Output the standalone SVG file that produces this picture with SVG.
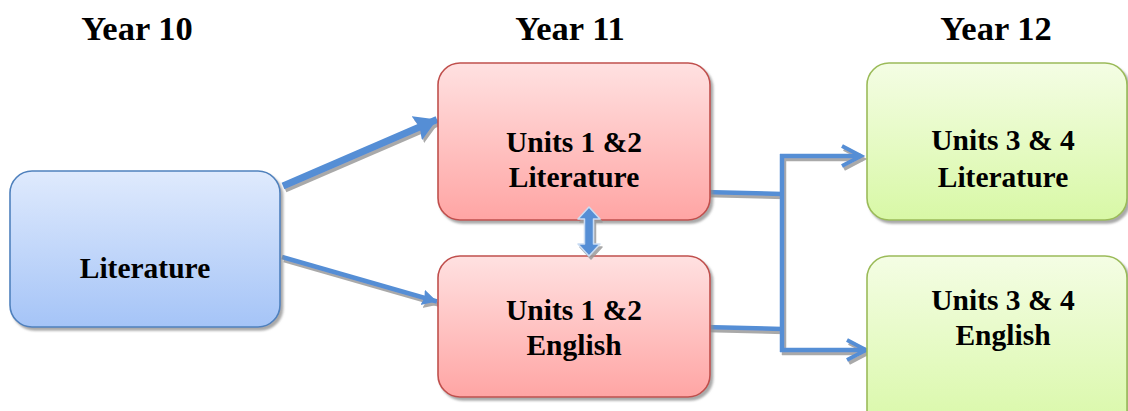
<svg xmlns="http://www.w3.org/2000/svg" width="1128" height="411" viewBox="0 0 1128 411">
  <style>
    .hdr { font-family: "Liberation Serif", "Times New Roman", serif; font-weight: bold; font-size: 34.5px; fill: #000; text-anchor: middle; }
    .lbl { font-family: "Liberation Serif", "Times New Roman", serif; font-weight: bold; font-size: 29.5px; fill: #000; text-anchor: middle; }
    .box { stroke-width: 1.6; filter: url(#shadow); }
    .blue { fill: url(#gBlue); stroke: #4f81bd; }
    .red { fill: url(#gRed); stroke: #c0504d; }
    .green { fill: url(#gGreen); stroke: #9bbb59; }
    .wire { fill: none; stroke: #558ed5; stroke-linecap: butt; }
  </style>
  <defs>
    <linearGradient id="gBlue" x1="0" y1="0" x2="0" y2="1">
      <stop offset="0" stop-color="#dfeafd"/>
      <stop offset="1" stop-color="#a5c4f7"/>
    </linearGradient>
    <linearGradient id="gRed" x1="0" y1="0" x2="0" y2="1">
      <stop offset="0" stop-color="#ffe1e1"/>
      <stop offset="1" stop-color="#ffa5a4"/>
    </linearGradient>
    <linearGradient id="gGreen" x1="0" y1="0" x2="0" y2="1">
      <stop offset="0" stop-color="#f4fde4"/>
      <stop offset="1" stop-color="#d8f8a6"/>
    </linearGradient>
    <filter id="shadow" x="-10%" y="-10%" width="125%" height="130%">
      <feDropShadow dx="2.5" dy="3" stdDeviation="0.8" flood-color="#8c8c8c" flood-opacity="0.75"/>
    </filter>
    <filter id="lineShadow" x="-10%" y="-20%" width="130%" height="150%">
      <feDropShadow dx="2" dy="3" stdDeviation="0.7" flood-color="#9a9a9a" flood-opacity="0.85"/>
    </filter>
    <marker id="headBig" markerUnits="userSpaceOnUse" markerWidth="26" markerHeight="28" refX="22" refY="13" orient="auto">
      <path d="M0,0 L22,13 L0,26 L3,13 z" fill="#558ed5"/>
    </marker>
    <marker id="headSmall" markerUnits="userSpaceOnUse" markerWidth="18" markerHeight="18" refX="15" refY="8" orient="auto">
      <path d="M0,0 L15,8 L0,16 L2,8 z" fill="#558ed5"/>
    </marker>
    <marker id="chevron" markerUnits="userSpaceOnUse" markerWidth="26" markerHeight="26" refX="21" refY="12" orient="auto">
      <path d="M2,2 L21,12 L2,22" fill="none" stroke="#558ed5" stroke-width="4" stroke-linejoin="miter"/>
    </marker>
  </defs>

  <!-- column headings -->
  <text class="hdr" x="137" y="40">Year 10</text>
  <text class="hdr" x="570" y="40">Year 11</text>
  <text class="hdr" x="996" y="40">Year 12</text>

  <!-- connectors -->
  <g id="connectors" filter="url(#lineShadow)">
    <line class="wire" x1="283" y1="186" x2="437" y2="119.5" stroke-width="7" marker-end="url(#headBig)"/>
    <line class="wire" x1="282" y1="257" x2="437" y2="301.5" stroke-width="4.5" marker-end="url(#headSmall)"/>
    <path class="wire" d="M704,192 L782,194 M704,327 L782,329" stroke-width="4.5"/>
    <path class="wire" d="M782,154 L782,352" stroke-width="4.5"/>
    <path class="wire" d="M780,156 L861,156" stroke-width="4.5" marker-end="url(#chevron)"/>
    <path class="wire" d="M780,350 L866,350" stroke-width="4.5" marker-end="url(#chevron)"/>
  </g>

  <!-- Year 10 -->
  <g id="node-y10-literature">
    <rect class="box blue" x="10" y="171" width="270" height="156" rx="22"/>
    <text class="lbl" x="145" y="278">Literature</text>
  </g>

  <!-- Year 11 -->
  <g id="node-y11-literature">
    <rect class="box red" x="438" y="63" width="272" height="157" rx="22"/>
    <text class="lbl" x="574" y="152">Units 1 &amp;2</text>
    <text class="lbl" x="574" y="187">Literature</text>
  </g>
  <g id="node-y11-english">
    <rect class="box red" x="438" y="256" width="272" height="141" rx="22"/>
    <text class="lbl" x="574" y="320">Units 1 &amp;2</text>
    <text class="lbl" x="574" y="355">English</text>
  </g>

  <!-- two-way link between the Year 11 units -->
  <g id="link-y11" filter="url(#lineShadow)">
    <path d="M589,207 L600,219 L593.5,219 L593.5,244 L600,244 L589,256 L578,244 L584.5,244 L584.5,219 L578,219 z" fill="#558ed5" stroke="#c9dcf3" stroke-width="1.5" stroke-linejoin="round"/>
  </g>

  <!-- Year 12 -->
  <g id="node-y12-literature">
    <rect class="box green" x="867" y="63" width="260" height="157" rx="22"/>
    <text class="lbl" x="1003" y="150">Units 3 &amp; 4</text>
    <text class="lbl" x="1003" y="187">Literature</text>
  </g>
  <g id="node-y12-english">
    <rect class="box green" x="867" y="256" width="260" height="180" rx="22"/>
    <text class="lbl" x="1003" y="310">Units 3 &amp; 4</text>
    <text class="lbl" x="1003" y="345">English</text>
  </g>
</svg>
